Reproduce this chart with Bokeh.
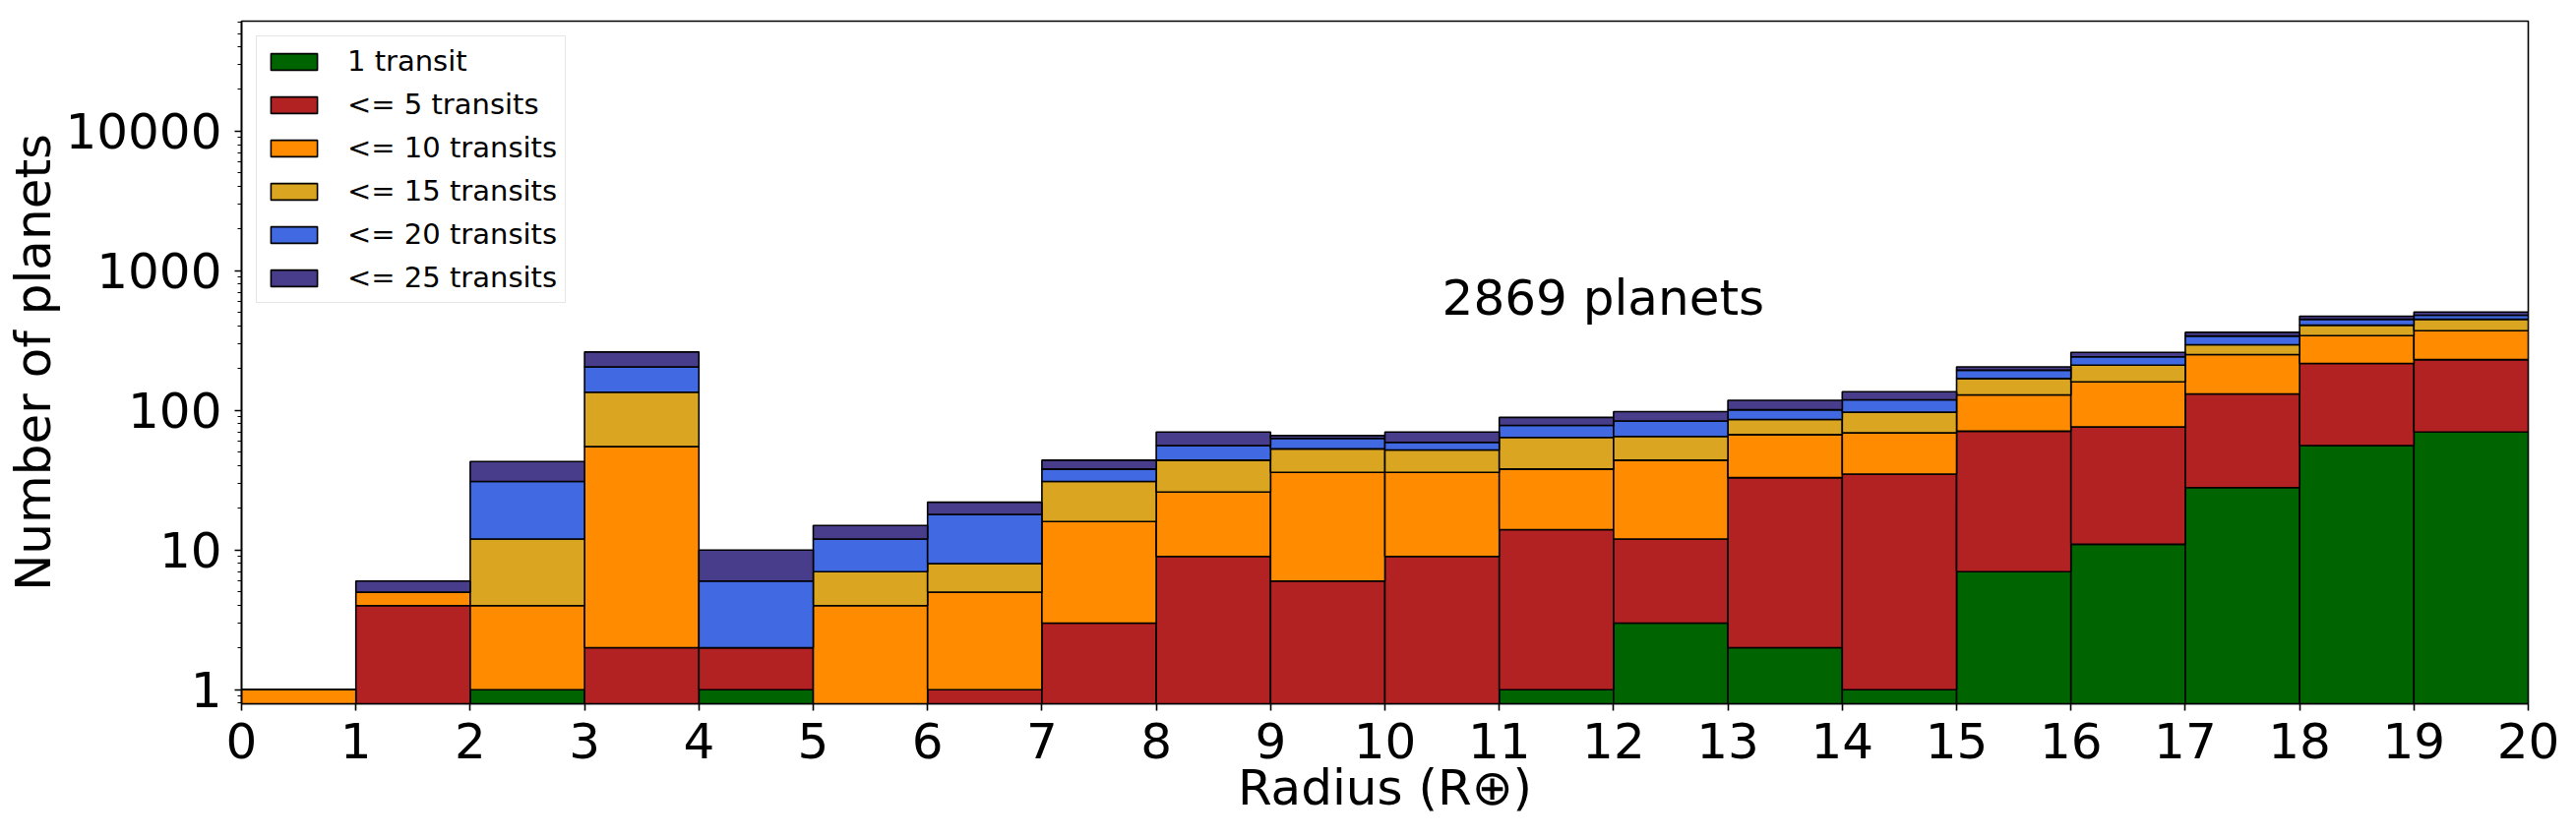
import numpy as np
from bokeh.plotting import figure
from bokeh.models import (ColumnDataSource, FixedTicker, Legend, LegendItem,
                          Label, PrintfTickFormatter, Range1d)
from bokeh.embed import file_html
from bokeh.resources import INLINE

# ---------------- data ----------------
bin_edges = list(range(0, 21))          # radius bins (Earth radii)
series_labels = ["1 transit", "<= 5 transits", "<= 10 transits",
                 "<= 15 transits", "<= 20 transits", "<= 25 transits"]
series_colors = ["#006400", "#b22222", "#ff8c00", "#daa520", "#4169e1", "#483d8b"]

# counts per bin for each category (stacked in this order)
one_transit   = [0, 0, 1, 0, 1, 0, 0, 0, 0, 0, 0, 1, 3, 2, 1, 7, 11, 28, 56, 70]
le5_transits  = [0, 4, 0, 2, 1, 0, 1, 3, 9, 6, 9, 13, 9, 31, 34, 64, 65, 103, 161, 161]
le10_transits = [1, 1, 3, 53, 0, 4, 4, 13, 17, 30, 27, 24, 32, 34, 34, 58, 84, 120, 126, 141]
le15_transits = [0, 0, 8, 80, 0, 3, 3, 15, 18, 17, 16, 26, 21, 19, 28, 40, 51, 44, 64, 77]
le20_transits = [0, 0, 19, 70, 4, 5, 10, 7, 12, 10, 7, 14, 19, 15, 22, 25, 31, 46, 42, 31]
le25_transits = [0, 1, 12, 57, 4, 3, 4, 6, 14, 3, 11, 11, 14, 17, 17, 11, 18, 21, 23, 26]

total_planets = 2869
x_ticks = list(range(0, 21))
y_ticks = [1, 10, 100, 1000, 10000]

# ---------------- figure ----------------
y_lo, y_hi = 0.793, 61240
p = figure(width=2618, height=852,
           x_range=Range1d(0, 20), y_range=Range1d(y_lo, y_hi),
           y_axis_type="log", output_backend="svg", toolbar_location=None,
           min_border_left=245, min_border_right=49,
           min_border_top=21, min_border_bottom=137)
p.background_fill_color = "white"
p.border_fill_color = "white"
p.outline_line_color = "black"
p.outline_line_width = 1.6
p.xgrid.visible = False
p.ygrid.visible = False

counts = np.array([one_transit, le5_transits, le10_transits,
                   le15_transits, le20_transits, le25_transits], dtype=float)
cum = np.cumsum(counts, axis=0)
floor = 0.5  # below visible range: stands in for zero on a log axis
left = np.array(bin_edges[:-1], dtype=float)
right = np.array(bin_edges[1:], dtype=float)

items = []
for k in range(len(series_labels)):
    top = cum[k]
    bottom = cum[k - 1] if k > 0 else np.zeros_like(top)
    top = np.where(top > 0, top, floor)
    bottom = np.where(bottom > 0, bottom, floor)
    src = ColumnDataSource(dict(left=left, right=right, top=top, bottom=bottom))
    r = p.quad(left="left", right="right", top="top", bottom="bottom", source=src,
               fill_color=series_colors[k], line_color="black", line_width=1.6)
    items.append(LegendItem(label=series_labels[k], renderers=[r]))

# ---------------- axes ----------------
minor = [m * 10.0 ** e for e in range(-1, 5) for m in range(2, 10)]
minor = [v for v in minor if y_lo <= v <= y_hi]
p.yaxis.ticker = FixedTicker(ticks=y_ticks, minor_ticks=minor)
p.yaxis.formatter = PrintfTickFormatter(format="%d")
p.xaxis.ticker = FixedTicker(ticks=x_ticks)

for ax in (p.xaxis, p.yaxis):
    ax.axis_line_color = "black"
    ax.axis_line_width = 1.6
    ax.major_tick_line_color = "black"
    ax.major_tick_line_width = 1.6
    ax.minor_tick_line_color = "black"
    ax.minor_tick_line_width = 1.2
    ax.major_tick_in = 0
    ax.major_tick_out = 7
    ax.minor_tick_in = 0
    ax.minor_tick_out = 4
    ax.major_label_text_font = "DejaVu Sans"
    ax.major_label_text_font_size = "50px"
    ax.major_label_text_color = "black"
    ax.axis_label_text_font = "DejaVu Sans"
    ax.axis_label_text_font_size = "50px"
    ax.axis_label_text_font_style = "normal"
    ax.axis_label_text_color = "black"
    ax.axis_label_standoff = 0

p.xaxis.major_label_standoff = 12
p.xaxis.axis_label_standoff = -2
p.yaxis.major_label_standoff = 13
p.xaxis.axis_label = "Radius (R\u2295)"
p.yaxis.axis_label = "Number of planets"

# ---------------- annotation ----------------
p.add_layout(Label(x=10.5, y=500, y_offset=15, text=f"{total_planets} planets",
                   text_font="DejaVu Sans", text_font_size="50px",
                   text_color="black", text_align="left",
                   text_baseline="alphabetic"))

# ---------------- legend ----------------
legend = Legend(items=items, location="top_left", margin=15,
                padding=8, spacing=10, glyph_width=59, glyph_height=21,
                label_standoff=25, label_height=30,
                label_text_font="DejaVu Sans", label_text_font_size="29px",
                label_text_color="black",
                border_line_color="#cccccc", border_line_width=1.5,
                background_fill_color="white", background_fill_alpha=0.8)
p.add_layout(legend)

open("out.html", "w").write(file_html(p, INLINE))
